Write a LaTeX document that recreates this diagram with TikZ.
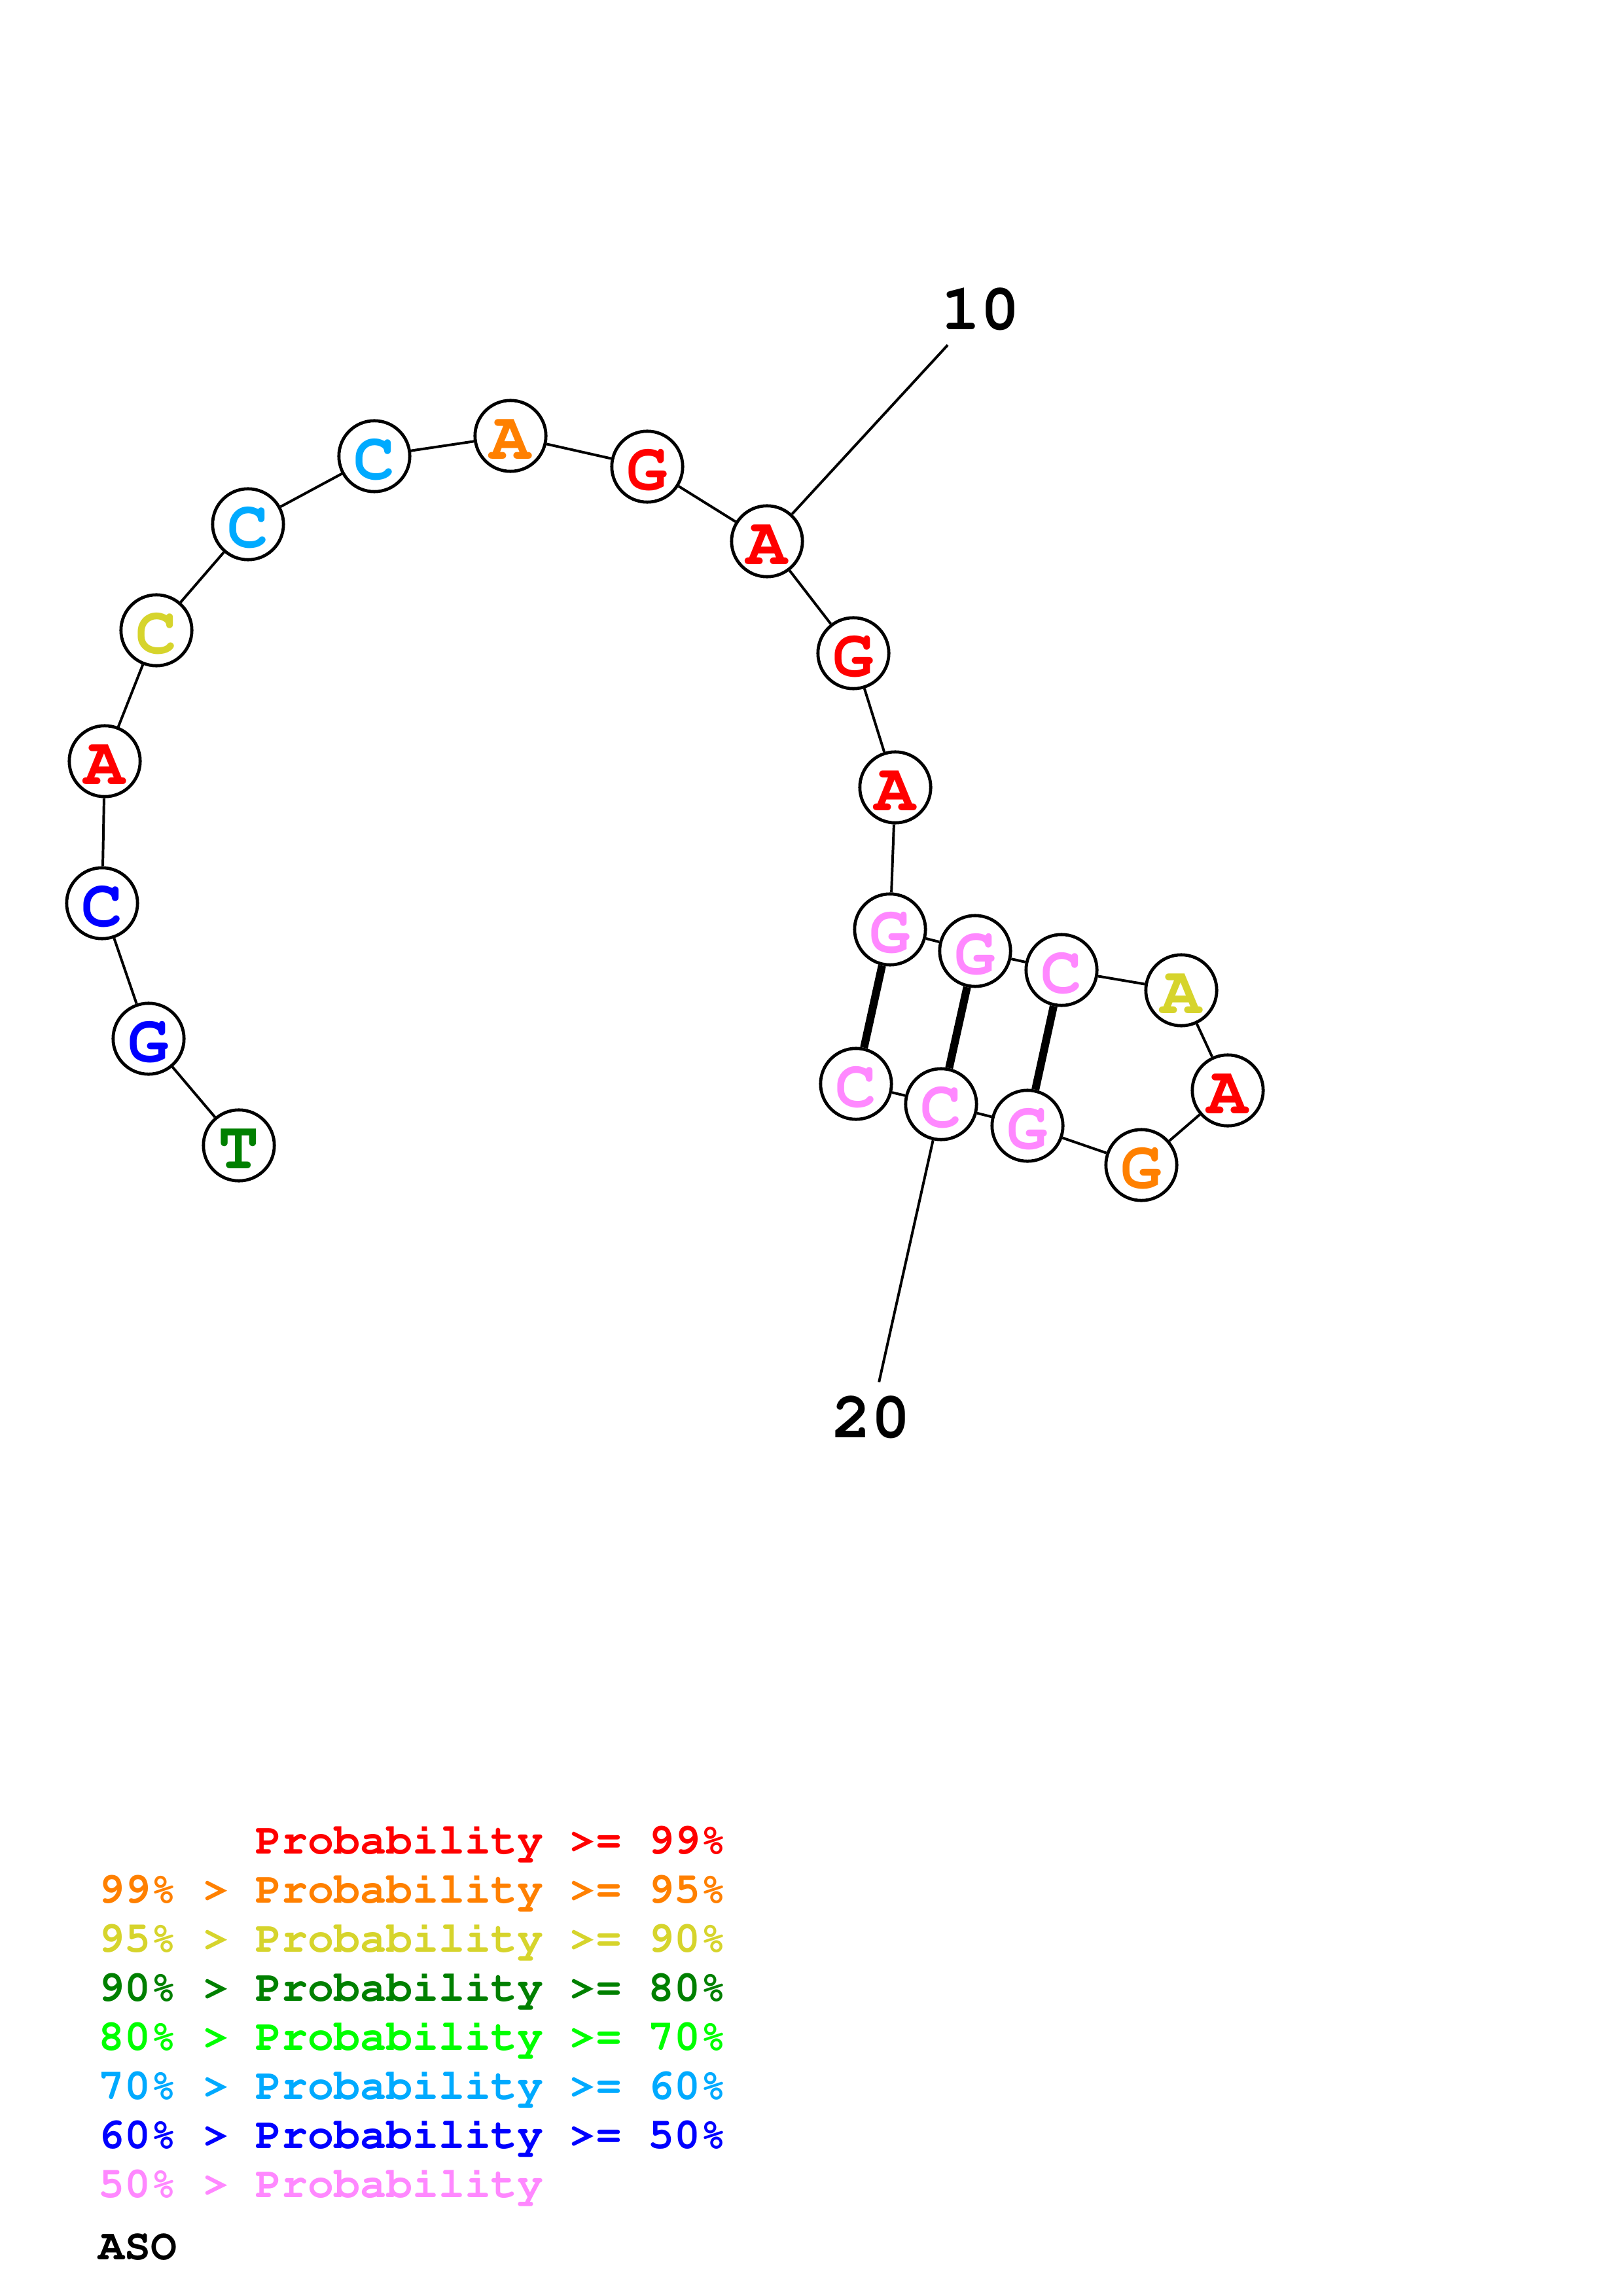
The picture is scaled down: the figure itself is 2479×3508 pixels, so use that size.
\documentclass[tikz,border=0pt]{standalone}
\usepackage[T1]{fontenc}
\usepackage{courier}
\definecolor{pr99}{HTML}{FF0000}
\definecolor{pr95}{HTML}{FF8000}
\definecolor{pr90}{HTML}{D6D42C}
\definecolor{pr80}{HTML}{008000}
\definecolor{pr70}{HTML}{00FF00}
\definecolor{pr60}{HTML}{00AAFF}
\definecolor{pr50}{HTML}{0000FF}
\definecolor{prlow}{HTML}{FF88FF}
\begin{document}
\begin{tikzpicture}[x=0.24pt,y=-0.24pt,
    base/.style={draw,circle,fill=white,line width=1.15pt,inner sep=0pt,
      minimum size=26pt,text height=17pt,text depth=0pt,
      font=\ttfamily\bfseries\fontsize{25}{25}\selectfont},
    link/.style={line width=0.95pt},
    pair/.style={line width=2.9pt},
    numlab/.style={inner sep=5pt,font=\ttfamily\bfseries\fontsize{24}{24}\selectfont},
    legend/.style={anchor=base west,inner sep=0pt,font=\ttfamily\bfseries\fontsize{16}{16}\selectfont}]
      \path[fill=white,use as bounding box] (0,0) rectangle (2479,3508);
      \def \Nodes{
        1/365/1750/T/pr80,
        2/227/1587/G/pr50,
        3/156/1380/C/pr50,
        4/160/1163/A/pr99,
        5/239/963/C/pr90,
        6/379/801/C/pr60,
        7/572/697/C/pr60,
        8/780/666/A/pr95,
        9/989/713/G/pr99,
        10/1172/827/A/pr99,
        11/1304/998/G/pr99,
        12/1368/1203/A/pr99,
        13/1360/1420/G/prlow,
        14/1490/1453/G/prlow,
        15/1622/1482/C/prlow,
        16/1805/1513/A/pr90,
        17/1876/1666/A/pr99,
        18/1744/1780/G/pr95,
        19/1570/1720/G/prlow,
        20/1438/1687/C/prlow,
        21/1308/1656/C/prlow}
      \def \Pairs{
        13/21,
        14/20,
        15/19}
      \def \Legend{
        pr99/\phantom{99\% > }Probability >= 99\%,
        pr95/99\% > Probability >= 95\%,
        pr90/95\% > Probability >= 90\%,
        pr80/90\% > Probability >= 80\%,
        pr70/80\% > Probability >= 70\%,
        pr60/70\% > Probability >= 60\%,
        pr50/60\% > Probability >= 50\%,
        prlow/50\% > Probability}
      \foreach \id / \x / \y / \lb / \col in \Nodes{
        \node[base,text=\col] (\id) at (\x, \y) {\lb};
      }
      \foreach \i in {1,...,20}{
        \pgfmathtruncatemacro{\j}{\i+1}
        \path[draw,link] (\i) -- (\j);
      }
      \foreach \x / \y in \Pairs{
        \path[draw,pair] (\x) -- (\y);
      }
      % position labels
      \node[numlab] (lab10) at (1498, 473) {10};
      \node[numlab] (lab20) at (1331, 2166) {20};
      \draw[link] (10) -- (lab10);
      \draw[link] (20) -- (lab20);
      % legend
      \foreach \col / \txt [count=\i] in \Legend{
        \node[legend,text=\col] (leg\i) at (150, {2757+75*\i}) {\txt};
      }
      \node[legend] (aso) at (150, 3452) {ASO};
    \end{tikzpicture}
\end{document}
